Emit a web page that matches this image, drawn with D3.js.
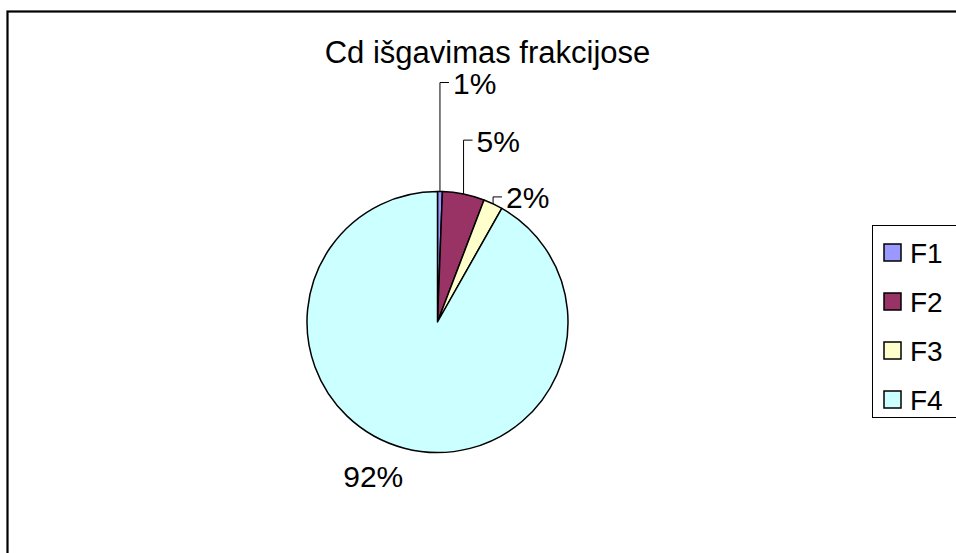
<!DOCTYPE html>
<html lang="lt">
<head>
    <meta charset="UTF-8">
    <title>Cd išgavimas frakcijose</title>
    <style>
        body, html {
            margin: 0;
            background-color: #fff;
            overflow: hidden;
        }
        svg text {
            font-family: "Liberation Sans", Arial, sans-serif;
            fill: #000;
        }
    </style>
    <script src="https://d3js.org/d3.v7.min.js"></script>
</head>
<body>
    <div id="chart"></div>
    <script>
        // data
        const categories = ["F1", "F2", "F3", "F4"];
        const shares = [0.6, 5.2, 2.4, 91.8];
        const colors = ["#9999FF", "#993366", "#FFFFCC", "#CCFFFF"];

        // how far each label leader rises above its slice (layout only)
        const leaderRise = [109, 54, 7, null];

        const width = 956, height = 553;
        const cx = 437.5, cy = 322, radius = 130.5;

        const svg = d3.select("#chart").append("svg")
            .attr("width", width)
            .attr("height", height);

        // outer chart frame
        svg.append("rect")
            .attr("x", 7.5).attr("y", 11.5)
            .attr("width", 1000).attr("height", 600)
            .attr("fill", "none")
            .attr("stroke", "#000")
            .attr("stroke-width", 2.2);

        svg.append("text")
            .attr("x", 487.5).attr("y", 63)
            .attr("text-anchor", "middle")
            .style("font-size", "31px")
            .text("Cd išgavimas frakcijose");

        const total = d3.sum(shares);
        const pie = d3.pie().sort(null).value(d => d);
        const arcs = pie(shares);
        const arc = d3.arc().innerRadius(0).outerRadius(radius);

        const g = svg.append("g").attr("transform", `translate(${cx},${cy})`);

        g.selectAll("path")
            .data(arcs)
            .enter().append("path")
            .attr("d", arc)
            .attr("fill", (d, i) => colors[i])
            .attr("stroke", "#000")
            .attr("stroke-width", 1.5)
            .attr("stroke-linejoin", "round");

        const pct = v => Math.round(v / total * 100) + "%";

        arcs.forEach((d, i) => {
            const mid = (d.startAngle + d.endAngle) / 2;
            const px = radius * Math.sin(mid);
            const py = -radius * Math.cos(mid);
            if (leaderRise[i] != null) {
                const ly = py - leaderRise[i];
                g.append("path")
                    .attr("d", `M${px},${py}V${ly}H${px + 9}`)
                    .attr("fill", "none")
                    .attr("stroke", "#000")
                    .attr("stroke-width", 1);
                g.append("text")
                    .attr("x", px + 13)
                    .attr("y", ly + 11.5)
                    .style("font-size", "30px")
                    .text(pct(d.data));
            } else {
                g.append("text")
                    .attr("x", px - 1)
                    .attr("y", py + 39)
                    .attr("text-anchor", "end")
                    .style("font-size", "30px")
                    .text(pct(d.data));
            }
        });

        // legend
        const legend = svg.append("g").attr("transform", "translate(872,225)");
        legend.append("rect")
            .attr("x", 0.5).attr("y", 0.5)
            .attr("width", 120).attr("height", 192)
            .attr("fill", "#fff")
            .attr("stroke", "#000")
            .attr("stroke-width", 1);

        const rowY = d3.scalePoint().domain(categories).range([28, 175]);

        const rows = legend.selectAll(".row")
            .data(categories)
            .enter().append("g")
            .attr("transform", d => `translate(0,${rowY(d)})`);

        rows.append("rect")
            .attr("x", 12).attr("y", -9)
            .attr("width", 17).attr("height", 17)
            .attr("fill", (d, i) => colors[i])
            .attr("stroke", "#000")
            .attr("stroke-width", 1.5);

        rows.append("text")
            .attr("x", 38).attr("y", 10)
            .style("font-size", "28px")
            .text(d => d);
    </script>
</body>
</html>
